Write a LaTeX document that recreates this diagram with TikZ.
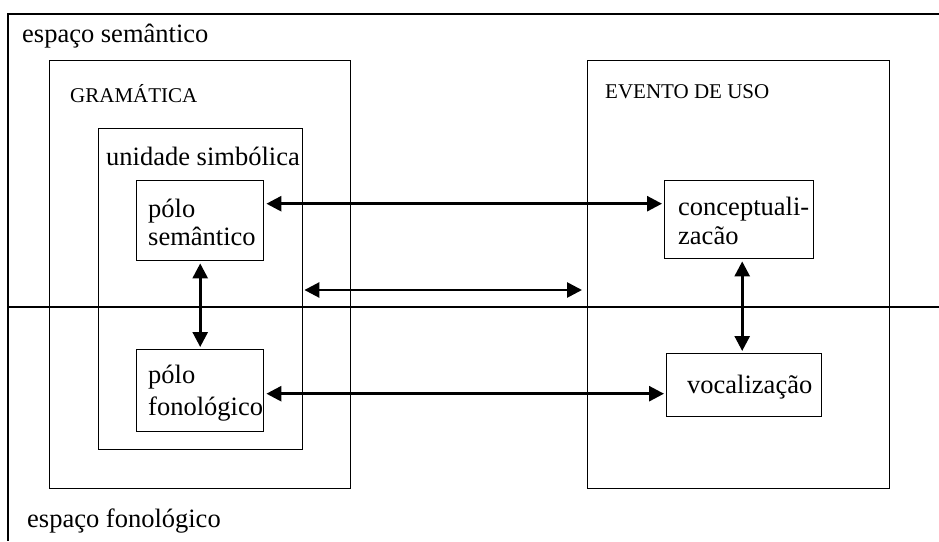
\documentclass[tikz,border=0pt]{standalone}
\usepackage{fontspec}
\setmainfont{Liberation Serif}
\usetikzlibrary{arrows.meta}
\begin{document}
\begin{tikzpicture}[x=1pt,y=-1pt,
  frame/.style={draw=black,line width=1.4pt},
  box/.style={draw=black,line width=1.4pt,rectangle,inner sep=0pt,anchor=north west},
  big/.style={font=\fontsize{26.5}{29}\selectfont,inner sep=0pt,anchor=base west},
  small/.style={font=\fontsize{21}{24}\selectfont,inner sep=0pt,anchor=base west},
  arr/.style={line width=2.7pt,{Triangle[length=15pt,width=15pt]}-{Triangle[length=15pt,width=15pt]},shorten <=2pt,shorten >=2pt}]
\useasboundingbox (0,0) rectangle (939,541);
% outer frame and the line between the two spaces
\draw[frame] (939,14) -- (8,14) -- (8,541);
\draw[frame] (8,307) -- (939,307);
% nested boxes
\node[box,minimum width=301pt,minimum height=428pt] (gram) at (49,60) {};
\node[box,minimum width=204pt,minimum height=321pt] (us) at (98,128) {};
\node[box,minimum width=127pt,minimum height=80pt] (ps) at (136,180) {};
\node[box,minimum width=127pt,minimum height=82pt] (pf) at (136,349) {};
\node[box,minimum width=302pt,minimum height=428pt] (ev) at (587,60) {};
\node[box,minimum width=149pt,minimum height=78pt] (cz) at (664,180) {};
\node[box,minimum width=155pt,minimum height=63pt] (vz) at (666,353) {};
% labels
\node[big] (t1) at (22,42) {espaço semântico};
\node[big] (t2) at (27,527) {espaço fonológico};
\node[small] (t3) at (70,102) {GRAMÁTICA};
\node[small] (t4) at (605,98) {EVENTO DE USO};
\node[big] (t5) at (106,165) {unidade simbólica};
\node[big] (t6) at (148,217) {pólo};
\node[big] (t7) at (148,245) {semântico};
\node[big] (t8) at (148,383) {pólo};
\node[big] (t9) at (148,415) {fonológico};
\node[big] (t10) at (678,215) {conceptuali-};
\node[big] (t11) at (678,244) {zacão};
\node[big] (t12) at (687,393) {vocalização};
% connectors
\coordinate (a1) at ([yshift=17pt]ps.east);
\draw[arr] (a1) -- (a1 -| cz.west);
\coordinate (a2) at ([yshift=-3pt]pf.east);
\draw[arr] (a2) -- (a2 -| vz.west);
\coordinate (m1) at (us.east |- 0,290);
\draw[arr,shorten <=1pt,shorten >=5pt] (m1) -- (m1 -| ev.west);
\draw[arr] (ps.south) -- (pf.north);
\coordinate (v1) at ([xshift=3pt]cz.south);
\draw[arr] (v1) -- (v1 |- vz.north);
\end{tikzpicture}
\end{document}
